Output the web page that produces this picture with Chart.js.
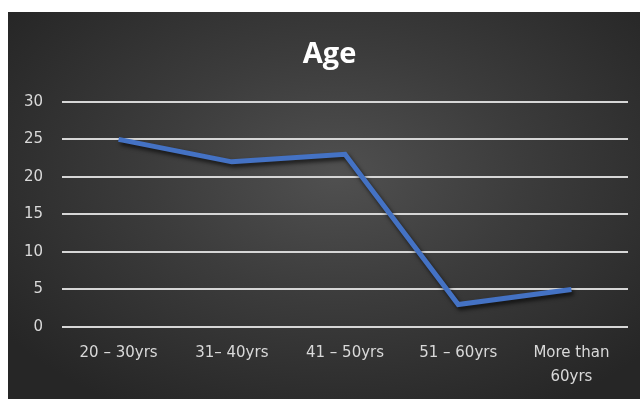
<!DOCTYPE html>
<html>
<head>
<meta charset="utf-8">
<script src="https://cdn.jsdelivr.net/npm/chart.js@4/dist/chart.umd.min.js"></script>
<style>
  html, body { margin: 0; padding: 0; background: #ffffff; }
  #panel {
    position: absolute; left: 8px; top: 12px; width: 632px; height: 387px;
    background: radial-gradient(ellipse 65% 70% at 52% 42%, #505050 0%, #3c3c3c 45%, #262626 100%);
  }
  canvas { display: block; }
</style>
</head>
<body>
<div id="panel"><canvas id="myChart" width="632" height="387"></canvas></div>
<script>
// Dados do gráfico
var categorias = ['20 – 30yrs', '31– 40yrs', '41 – 50yrs', '51 – 60yrs', ['More than', '60yrs']];
var valores = [25, 22, 23, 3, 5];
var yTicks = [0, 5, 10, 15, 20, 25, 30];

var labelFont = "'DejaVu Sans', sans-serif";

// Sombra da linha e ajuste do título
var shadowPlugin = {
  id: 'lineShadow',
  afterLayout: function (chart) {
    // o título do original fica um pouco à direita do centro
    if (chart.titleBlock) {
      chart.titleBlock.left += 11.5;
      chart.titleBlock.right += 11.5;
    }
  },
  beforeDatasetDraw: function (chart) {
    var c = chart.ctx;
    c.save();
    c.shadowColor = 'rgba(0,0,0,0.7)';
    c.shadowBlur = 4;
    c.shadowOffsetX = 2;
    c.shadowOffsetY = 3;
  },
  afterDatasetDraw: function (chart) {
    chart.ctx.restore();
  }
};

var ctx = document.getElementById('myChart').getContext('2d');

var myChart = new Chart(ctx, {
  type: 'line',
  data: {
    labels: categorias,
    datasets: [{
      label: 'Age',
      data: valores,
      borderColor: '#4472C4',
      borderWidth: 5,
      tension: 0,
      pointRadius: 0,
      fill: false
    }]
  },
  options: {
    responsive: false,
    animation: false,
    layout: { padding: { left: 0, right: 12, top: 0, bottom: 9.5 } },
    plugins: {
      legend: { display: false },
      tooltip: { enabled: false },
      title: {
        display: true,
        text: 'Age',
        color: '#ffffff',
        font: { family: "'Open Sans', sans-serif", size: 29, weight: 'bold' },
        padding: { top: 25, bottom: 30 }
      }
    },
    scales: {
      x: {
        offset: true,
        afterFit: function (scale) { scale.height = 62.5; },
        grid: { display: false, drawTicks: false },
        border: { display: false },
        ticks: {
          color: '#d9d9d9',
          font: { family: labelFont, size: 15, lineHeight: 1.6 },
          padding: 14.5,
          maxRotation: 0,
          autoSkip: false
        }
      },
      y: {
        min: 0,
        max: 30,
        afterBuildTicks: function (scale) {
          scale.ticks = yTicks.map(function (v) { return { value: v }; });
        },
        afterFit: function (scale) { scale.width = 54; },
        grid: { color: '#d6d6d6', lineWidth: 2, drawTicks: false },
        border: { display: false },
        ticks: {
          color: '#d9d9d9',
          font: { family: labelFont, size: 15 },
          padding: 19
        }
      }
    }
  },
  plugins: [shadowPlugin]
});
</script>
</body>
</html>
